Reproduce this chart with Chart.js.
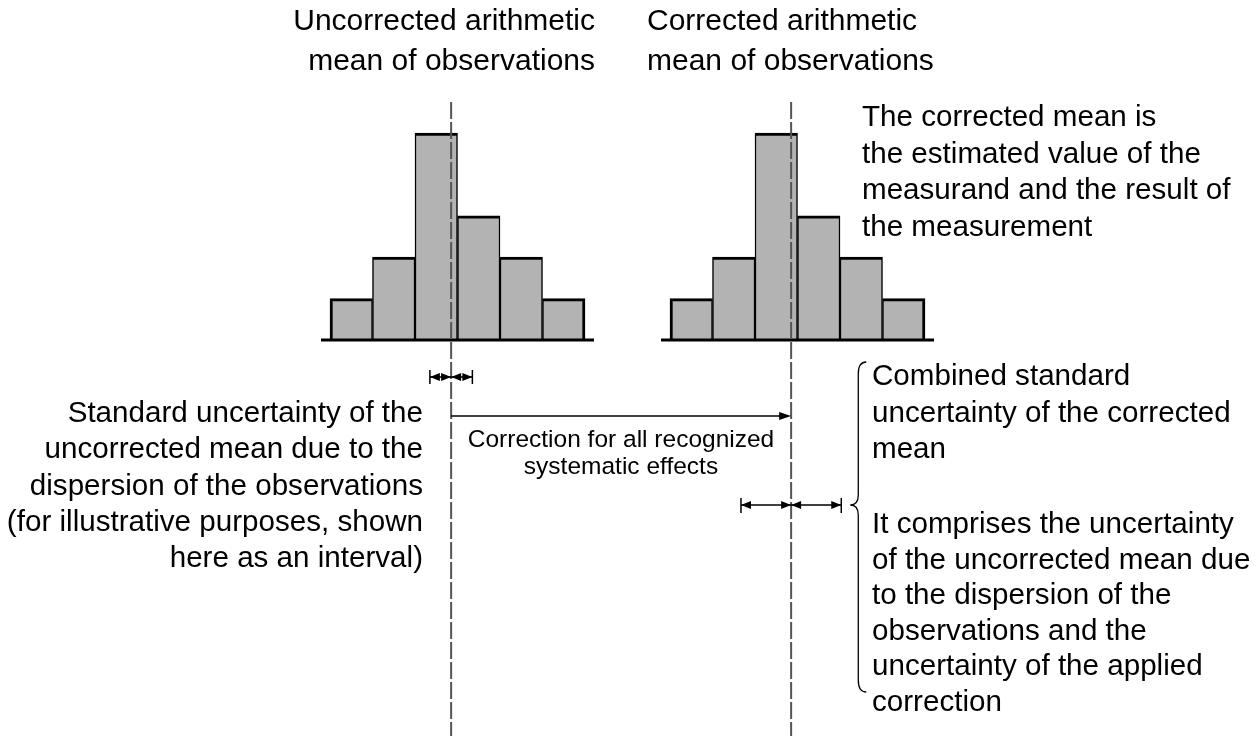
<!DOCTYPE html>
<html>
<head>
<meta charset="utf-8">
<script src="https://cdn.jsdelivr.net/npm/chart.js@4.4.1/dist/chart.umd.min.js"></script>
<style>
  html, body { margin: 0; padding: 0; background: #fff; }
  #wrap { width: 1258px; height: 736px; position: relative; }
</style>
</head>
<body>
<div id="wrap"><canvas id="chart"></canvas></div>
<script>
// histogram data (bin units on x, counts on y)
const binCenters = [0.5, 1.5, 2.5, 3.5, 4.5, 5.5];
const uncorrectedCounts = [1, 2, 5, 3, 2, 1];
const correctedCounts = [1, 2, 5, 3, 2, 1];
const uncorrectedMean = 2.85;
const correction = 8;
const stdUncertainty = 0.5;
const combinedUncertainty = 1.18;

// labels
const headUncorrected = ['Uncorrected arithmetic', 'mean of observations'];
const headCorrected = ['Corrected arithmetic', 'mean of observations'];
const noteResult = ['The corrected mean is', 'the estimated value of the', 'measurand and the result of', 'the measurement'];
const noteStd = ['Standard uncertainty of the', 'uncorrected mean due to the', 'dispersion of the observations',
  '(for illustrative purposes, shown', 'here as an interval)'];
const noteCorrection = ['Correction for all recognized', 'systematic effects'];
const noteCombined = ['Combined standard', 'uncertainty of the corrected', 'mean'];
const noteComprises = ['It comprises the uncertainty', 'of the uncorrected mean due', 'to the dispersion of the',
  'observations and the', 'uncertainty of the applied', 'correction'];

// page geometry
const W = 1258, H = 736;
const binPx = 42.5, originPx = 330;
const countPx = 41.4, baselinePx = 340;
const FONT = '"Liberation Sans", Arial, sans-serif';

function lines(ctx, arr, x, y0, step, align) {
    ctx.textAlign = align;
    arr.forEach((t, i) => ctx.fillText(t, x, y0 + i * step));
}

function arrowHead(ctx, tx, ty, dir, len = 10, half = 4) {
    ctx.beginPath();
    ctx.moveTo(tx, ty);
    ctx.lineTo(tx - dir * len, ty - half);
    ctx.lineTo(tx - dir * len, ty + half);
    ctx.closePath();
    ctx.fill();
}

function seg(ctx, x1, y1, x2, y2) {
    ctx.beginPath();
    ctx.moveTo(x1, y1);
    ctx.lineTo(x2, y2);
    ctx.stroke();
}

// double-headed dimension line
function dim(ctx, x1, x2, yy) {
    seg(ctx, x1, yy, x2, yy);
    arrowHead(ctx, x1, yy, -1);
    arrowHead(ctx, x2, yy, 1);
}

const diagram = {
    id: 'diagram',
    afterDatasetsDraw(chart) {
        const { ctx, scales: { x, y } } = chart;
        const base = y.getPixelForValue(0);
        const m1 = x.getPixelForValue(uncorrectedMean);
        const m2 = x.getPixelForValue(uncorrectedMean + correction);
        ctx.save();

        // baselines under the histograms
        ctx.strokeStyle = '#000';
        ctx.lineWidth = 3;
        [0, correction].forEach(off => {
            seg(ctx, x.getPixelForValue(off) - 9, base, x.getPixelForValue(off + binCenters.length) + 9, base);
        });

        // dashed mean lines
        ctx.strokeStyle = '#555';
        ctx.lineWidth = 2;
        ctx.setLineDash([17, 3]);
        [m1, m2].forEach(px => seg(ctx, px, 102, px, H));
        ctx.setLineDash([]);

        ctx.strokeStyle = '#000';
        ctx.fillStyle = '#000';
        ctx.lineWidth = 1.5;

        // standard uncertainty of the uncorrected mean
        const u1 = x.getPixelForValue(uncorrectedMean - stdUncertainty);
        const u2 = x.getPixelForValue(uncorrectedMean + stdUncertainty);
        dim(ctx, u1, m1, 377);
        dim(ctx, m1, u2, 377);
        seg(ctx, u1, 370, u1, 384);
        seg(ctx, u2, 370, u2, 384);

        // correction arrow
        seg(ctx, m1, 416, m2 - 4, 416);
        arrowHead(ctx, m2, 416, 1, 12, 4);

        // combined standard uncertainty
        const c1 = x.getPixelForValue(uncorrectedMean + correction - combinedUncertainty);
        const c2 = x.getPixelForValue(uncorrectedMean + correction + combinedUncertainty);
        dim(ctx, c1, m2, 505);
        dim(ctx, m2, c2, 505);
        seg(ctx, c1, 498, c1, 513);
        seg(ctx, c2, 498, c2, 513);

        // brace
        const bx = c2 + 17, top = 362, bot = 692, mid = 505;
        ctx.lineWidth = 1.3;
        ctx.beginPath();
        ctx.moveTo(bx + 8, top);
        ctx.quadraticCurveTo(bx, top, bx, top + 12);
        ctx.lineTo(bx, mid - 10);
        ctx.quadraticCurveTo(bx, mid, bx - 8, mid);
        ctx.quadraticCurveTo(bx, mid, bx, mid + 10);
        ctx.lineTo(bx, bot - 12);
        ctx.quadraticCurveTo(bx, bot, bx + 8, bot);
        ctx.stroke();

        // texts
        ctx.textBaseline = 'middle';
        ctx.font = '30px ' + FONT;
        lines(ctx, headUncorrected, 595, 22, 40, 'right');
        lines(ctx, headCorrected, 647, 22, 40, 'left');
        ctx.font = '29.6px ' + FONT;
        lines(ctx, noteResult, 862, 118, 36.5, 'left');
        lines(ctx, noteStd, 423, 414, 36.2, 'right');
        lines(ctx, noteCombined, 872, 377, 36.5, 'left');
        lines(ctx, noteComprises, 872, 525, 35.5, 'left');
        ctx.font = '24.5px ' + FONT;
        lines(ctx, noteCorrection, 621, 440, 27, 'center');
        ctx.restore();
    }
};

const lastBin = binCenters.length - 1;
const barBorder = c => ({
    top: 3,
    bottom: 0,
    left: c.dataIndex === 0 ? 3 : 1.5,
    right: c.dataIndex === lastBin ? 3 : 1.5
});

new Chart(document.getElementById('chart'), {
    type: 'bar',
    data: {
        datasets: [
            {
                label: 'Uncorrected',
                data: binCenters.map((c, i) => ({ x: c, y: uncorrectedCounts[i] })),
                backgroundColor: '#b3b3b3',
                borderColor: '#000',
                borderWidth: barBorder,
                borderSkipped: false
            },
            {
                label: 'Corrected',
                data: binCenters.map((c, i) => ({ x: c + correction, y: correctedCounts[i] })),
                backgroundColor: '#b3b3b3',
                borderColor: '#000',
                borderWidth: barBorder,
                borderSkipped: false
            }
        ]
    },
    options: {
        responsive: true,
        maintainAspectRatio: false,
        animation: false,
        grouped: false,
        barPercentage: 1,
        categoryPercentage: 1,
        layout: { padding: 0 },
        plugins: { legend: { display: false }, tooltip: { enabled: false } },
        scales: {
            x: {
                type: 'linear',
                display: false,
                offset: false,
                bounds: 'data',
                min: -originPx / binPx,
                max: (W - originPx) / binPx
            },
            y: {
                display: false,
                min: -(H - baselinePx) / countPx,
                max: baselinePx / countPx
            }
        }
    },
    plugins: [diagram]
});
</script>
</body>
</html>
